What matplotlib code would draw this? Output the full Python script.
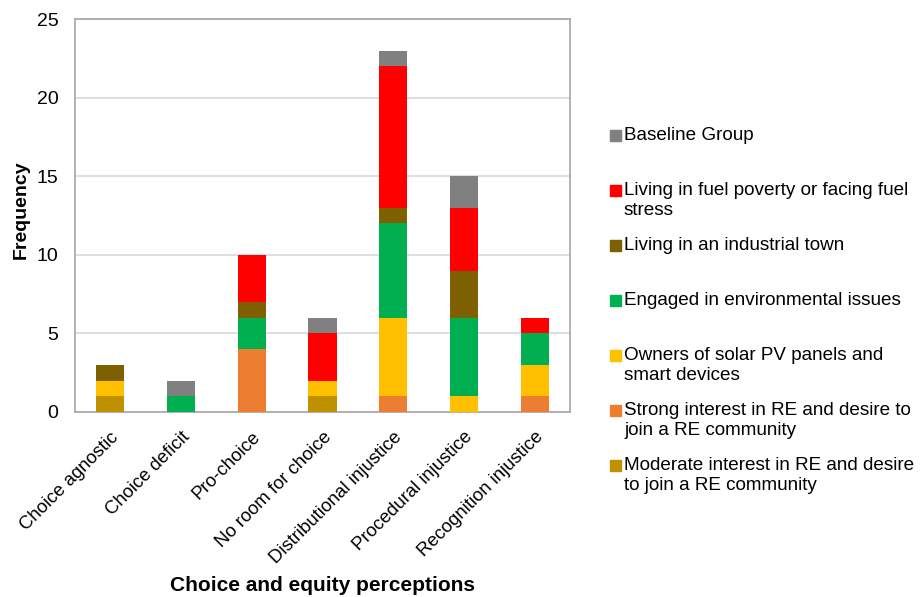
import matplotlib.pyplot as plt
from matplotlib.patches import Rectangle
import numpy as np

plt.rcParams['font.family'] = ['Liberation Sans', 'DejaVu Sans']

# categories on the x axis
categories = ["Choice agnostic", "Choice deficit", "Pro-choice", "No room for choice",
              "Distributional injustice", "Procedural injustice", "Recognition injustice"]

# counts per group, stacked bottom -> top
moderate_interest = [1, 0, 0, 1, 0, 0, 0]
strong_interest = [0, 0, 4, 0, 1, 0, 1]
solar_owners = [1, 0, 0, 1, 5, 1, 2]
environmental = [0, 1, 2, 0, 6, 5, 2]
industrial_town = [1, 0, 1, 0, 1, 3, 0]
fuel_poverty = [0, 0, 3, 3, 9, 4, 1]
baseline = [0, 1, 0, 1, 1, 2, 0]

series = [
    ("Moderate interest in RE and desire\nto join a RE community", moderate_interest, "#BF9000"),
    ("Strong interest in RE and desire to\njoin a RE community", strong_interest, "#ED7D31"),
    ("Owners of solar PV panels and\nsmart devices", solar_owners, "#FFC000"),
    ("Engaged in environmental issues", environmental, "#00B050"),
    ("Living in an industrial town", industrial_town, "#7F6000"),
    ("Living in fuel poverty or facing fuel\nstress", fuel_poverty, "#FF0000"),
    ("Baseline Group", baseline, "#808080"),
]

fig = plt.figure(figsize=(9.21, 5.97), dpi=100)
ax = fig.add_axes([0.0814, 0.310, 0.5376, 0.658])

x = np.arange(len(categories))
bottom = np.zeros(len(categories))
for label, vals, color in series:
    ax.bar(x, vals, width=0.4, bottom=bottom, color=color, linewidth=0, zorder=3)
    bottom += np.array(vals)

ax.set_xlim(-0.5, len(categories) - 0.5)
ax.set_ylim(0, 25)
ax.set_yticks(range(0, 26, 5))
ax.yaxis.grid(True, color="#D9D9D9", linewidth=1.2, zorder=0)
ax.set_axisbelow(True)
for s in ax.spines.values():
    s.set_color("#A6A6A6")
    s.set_linewidth(1.2)
ax.tick_params(axis="y", length=0, labelsize=14, pad=12)
ax.tick_params(axis="x", length=0, labelsize=13.3, pad=12)
ax.set_xticks(x)
ax.set_xticklabels(categories, rotation=45, ha="right", rotation_mode="anchor")
ax.set_xlabel("Choice and equity perceptions", fontsize=15, fontweight="bold")
ax.xaxis.set_label_coords(0.5, -0.418)
ax.set_ylabel("Frequency", fontsize=14, fontweight="bold")
ax.yaxis.set_label_coords(-0.092, 0.515)

# legend drawn by hand: top-down, one slot per group
W, H = fig.get_size_inches() * fig.dpi
for i, (label, vals, color) in enumerate(reversed(series)):
    ytop = 127 + 55 * i
    fig.patches.append(Rectangle((610 / W, 1 - (ytop + 14) / H), 11 / W, 11 / H,
                                 transform=fig.transFigure, color=color, figure=fig))
    fig.text(624 / W, 1 - ytop / H, label, fontsize=13.6, va="top", ha="left",
             linespacing=1.2)

fig.savefig("out.png", dpi=100)
plt.close(fig)
